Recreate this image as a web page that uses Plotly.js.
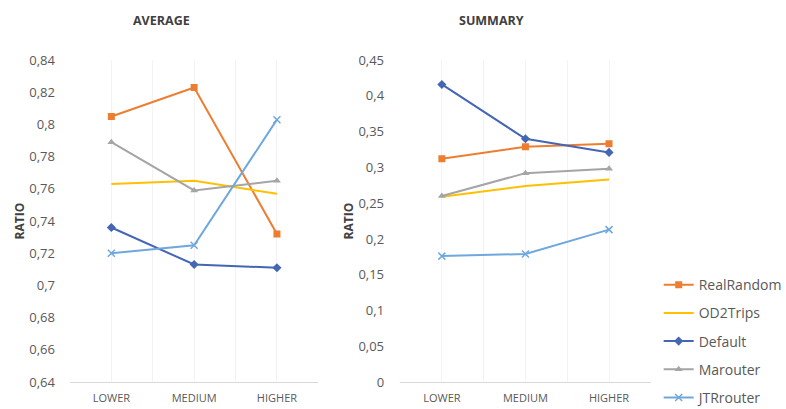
<!DOCTYPE html>
<html>
<head>
<meta charset="utf-8">
<script src="https://cdn.plot.ly/plotly-3.0.1.min.js"></script>
<style>
  html, body { margin: 0; padding: 0; background: #fff; }
  #chart { width: 786px; height: 409px; }
</style>
</head>
<body>
<div id="chart"></div>
<script>
// Traffic level categories
const levels = ['LOWER', 'MEDIUM', 'HIGHER'];

// AVERAGE ratio per routing method
const avgRealRandom = [0.805, 0.823, 0.732];
const avgOD2Trips   = [0.763, 0.765, 0.757];
const avgDefault    = [0.736, 0.713, 0.711];
const avgMarouter   = [0.789, 0.759, 0.765];
const avgJTRrouter  = [0.720, 0.725, 0.803];

// SUMMARY ratio per routing method
const sumRealRandom = [0.312, 0.329, 0.333];
const sumOD2Trips   = [0.259, 0.274, 0.283];
const sumDefault    = [0.416, 0.340, 0.321];
const sumMarouter   = [0.260, 0.292, 0.298];
const sumJTRrouter  = [0.176, 0.179, 0.213];

const seriesNames = ['RealRandom', 'OD2Trips', 'Default', 'Marouter', 'JTRrouter'];
const avgValues = [avgRealRandom, avgOD2Trips, avgDefault, avgMarouter, avgJTRrouter];
const sumValues = [sumRealRandom, sumOD2Trips, sumDefault, sumMarouter, sumJTRrouter];

const styles = [
  { color: '#ED7D31', mode: 'lines+markers', marker: { symbol: 'square', size: 7 } },
  { color: '#FFC000', mode: 'lines', marker: { size: 5 } },
  { color: '#4466B4', mode: 'lines+markers', marker: { symbol: 'diamond', size: 7 } },
  { color: '#A5A5A5', mode: 'lines+markers', marker: { symbol: 'triangle-up', size: 7 } },
  { color: '#6FA8DC', mode: 'lines+markers', marker: { symbol: 'x-thin-open', size: 7, line: { width: 1.5 } } }
];

const xIdx = levels.map((_, i) => i);
const traces = [];
[[avgValues, 'x', 'y', true], [sumValues, 'x2', 'y2', false]].forEach(([vals, xa, ya, legend]) => {
  vals.forEach((v, k) => {
    const st = styles[k];
    const marker = Object.assign({ color: st.color }, st.marker);
    if (marker.line) marker.line = Object.assign({ color: st.color }, marker.line);
    traces.push({
      type: 'scatter',
      x: xIdx, y: v,
      name: seriesNames[k],
      legendgroup: seriesNames[k],
      showlegend: legend,
      mode: st.mode,
      line: { color: st.color, width: 2 },
      marker: marker,
      xaxis: xa, yaxis: ya,
      hoverinfo: 'name+y'
    });
  });
});

const fam = 'Open Sans, Noto Sans, sans-serif';
const tickFont = { family: fam, size: 13, color: '#595959' };
const catFont  = { family: fam, size: 11, color: '#595959' };
const axisTitleFont = { family: fam, size: 12, color: '#404040', weight: 'bold' };
const titleFont = { family: fam, size: 12.5, color: '#404040', weight: 'bold' };

function xAxis(domain, anchor) {
  return {
    domain: domain, anchor: anchor,
    type: 'linear', range: [-0.5, 2.5],
    tickmode: 'array', tickvals: xIdx, ticktext: levels,
    tickfont: catFont, ticks: '', ticklabelstandoff: 6,
    showgrid: true, gridcolor: '#f3f3f3', gridwidth: 1,
    minor: { tickmode: 'linear', tick0: -0.5, dtick: 1, showgrid: true, gridcolor: '#f3f3f3', gridwidth: 1 },
    showline: true, linecolor: '#d9d9d9', linewidth: 1,
    zeroline: false, fixedrange: true
  };
}
function yAxis(domain, anchor, range, dtick, standoff) {
  return {
    domain: domain, anchor: anchor,
    range: range, dtick: dtick, tick0: 0,
    tickfont: tickFont, ticks: '', ticklabelstandoff: standoff,
    showgrid: false, zeroline: false, showline: false,
    title: { text: 'RATIO', font: axisTitleFont, standoff: 2 },
    fixedrange: true
  };
}

const layout = {
  width: 786, height: 409,
  margin: { l: 0, r: 0, t: 0, b: 0, autoexpand: false },
  paper_bgcolor: '#ffffff', plot_bgcolor: '#ffffff',
  separators: ',.',
  font: { family: fam, color: '#595959' },
  xaxis:  xAxis([0.089, 0.405], 'y'),
  yaxis:  yAxis([0.066, 0.853], 'x', [0.64, 0.84], 0.02, 14),
  xaxis2: xAxis([0.509, 0.828], 'y2'),
  yaxis2: yAxis([0.066, 0.853], 'x2', [0, 0.45], 0.05, 15),
  showlegend: true,
  legend: {
    x: 0.838, y: 0.342, xanchor: 'left', yanchor: 'top',
    font: { family: fam, size: 14, color: '#595959' },
    tracegroupgap: 7, traceorder: 'grouped',
    bgcolor: 'rgba(0,0,0,0)'
  },
  annotations: [
    { text: '<b>AVERAGE</b>', xref: 'paper', yref: 'paper', x: 0.206, y: 0.951,
      xanchor: 'center', yanchor: 'middle', showarrow: false, font: titleFont },
    { text: '<b>SUMMARY</b>', xref: 'paper', yref: 'paper', x: 0.625, y: 0.951,
      xanchor: 'center', yanchor: 'middle', showarrow: false, font: titleFont }
  ]
};

Plotly.newPlot('chart', traces, layout, { displayModeBar: false, staticPlot: true });
</script>
</body>
</html>
